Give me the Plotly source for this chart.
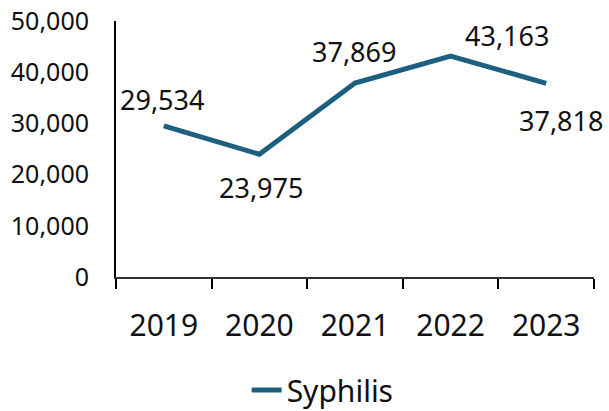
import plotly.graph_objects as go

years = ["2019", "2020", "2021", "2022", "2023"]
cases = [29534, 23975, 37869, 43163, 37818]
series_name = "Syphilis"
y_ticks = [0, 10000, 20000, 30000, 40000, 50000]

# label offsets (style only)
label_xshift = [-2, 2, -1, 56, 15]
label_yshift = [26, -33, 32, 21, -37]

color = "#1d5f7f"
font = "Noto Sans, Open Sans, sans-serif"
text_color = "#111111"

fig = go.Figure()
fig.add_trace(go.Scatter(
    x=years, y=cases, mode="lines", name=series_name,
    line=dict(color=color, width=5), showlegend=True,
))

for i, (y, dx, dy) in enumerate(zip(cases, label_xshift, label_yshift)):
    fig.add_annotation(x=i, y=y, text=f"{y:,}", showarrow=False,
                       xshift=dx, yshift=dy,
                       font=dict(family=font, size=27, color=text_color))

fig.update_layout(
    width=609, height=411,
    margin=dict(l=116, r=15, t=21, b=134, autoexpand=False),
    paper_bgcolor="white", plot_bgcolor="white",
    font=dict(family=font, size=25, color=text_color),
    showlegend=True,
    legend=dict(orientation="h", xref="container", yref="container",
                x=0.405, xanchor="left", y=0.051, yanchor="middle",
                font=dict(size=30, color=text_color), bgcolor="rgba(0,0,0,0)"),
)
fig.update_xaxes(
    type="category", categoryorder="array", categoryarray=years,
    range=[-0.5, len(years) - 0.5], tickangle=0, automargin=False,
    tickson="boundaries", ticks="outside", ticklen=10,
    tickcolor="#000000", tickwidth=1.5,
    showline=True, linecolor="#333333", linewidth=1.5,
    showgrid=False, zeroline=False, ticklabelstandoff=21,
    tickfont=dict(size=30),
)
fig.update_yaxes(
    range=[0, 50000], tickvals=y_ticks, tickformat=",d", automargin=False,
    showline=True, linecolor="#000000", linewidth=2,
    showgrid=False, zeroline=False, ticks="", ticklabelstandoff=20,
    tickfont=dict(size=25),
)

fig.write_html("out.html")
